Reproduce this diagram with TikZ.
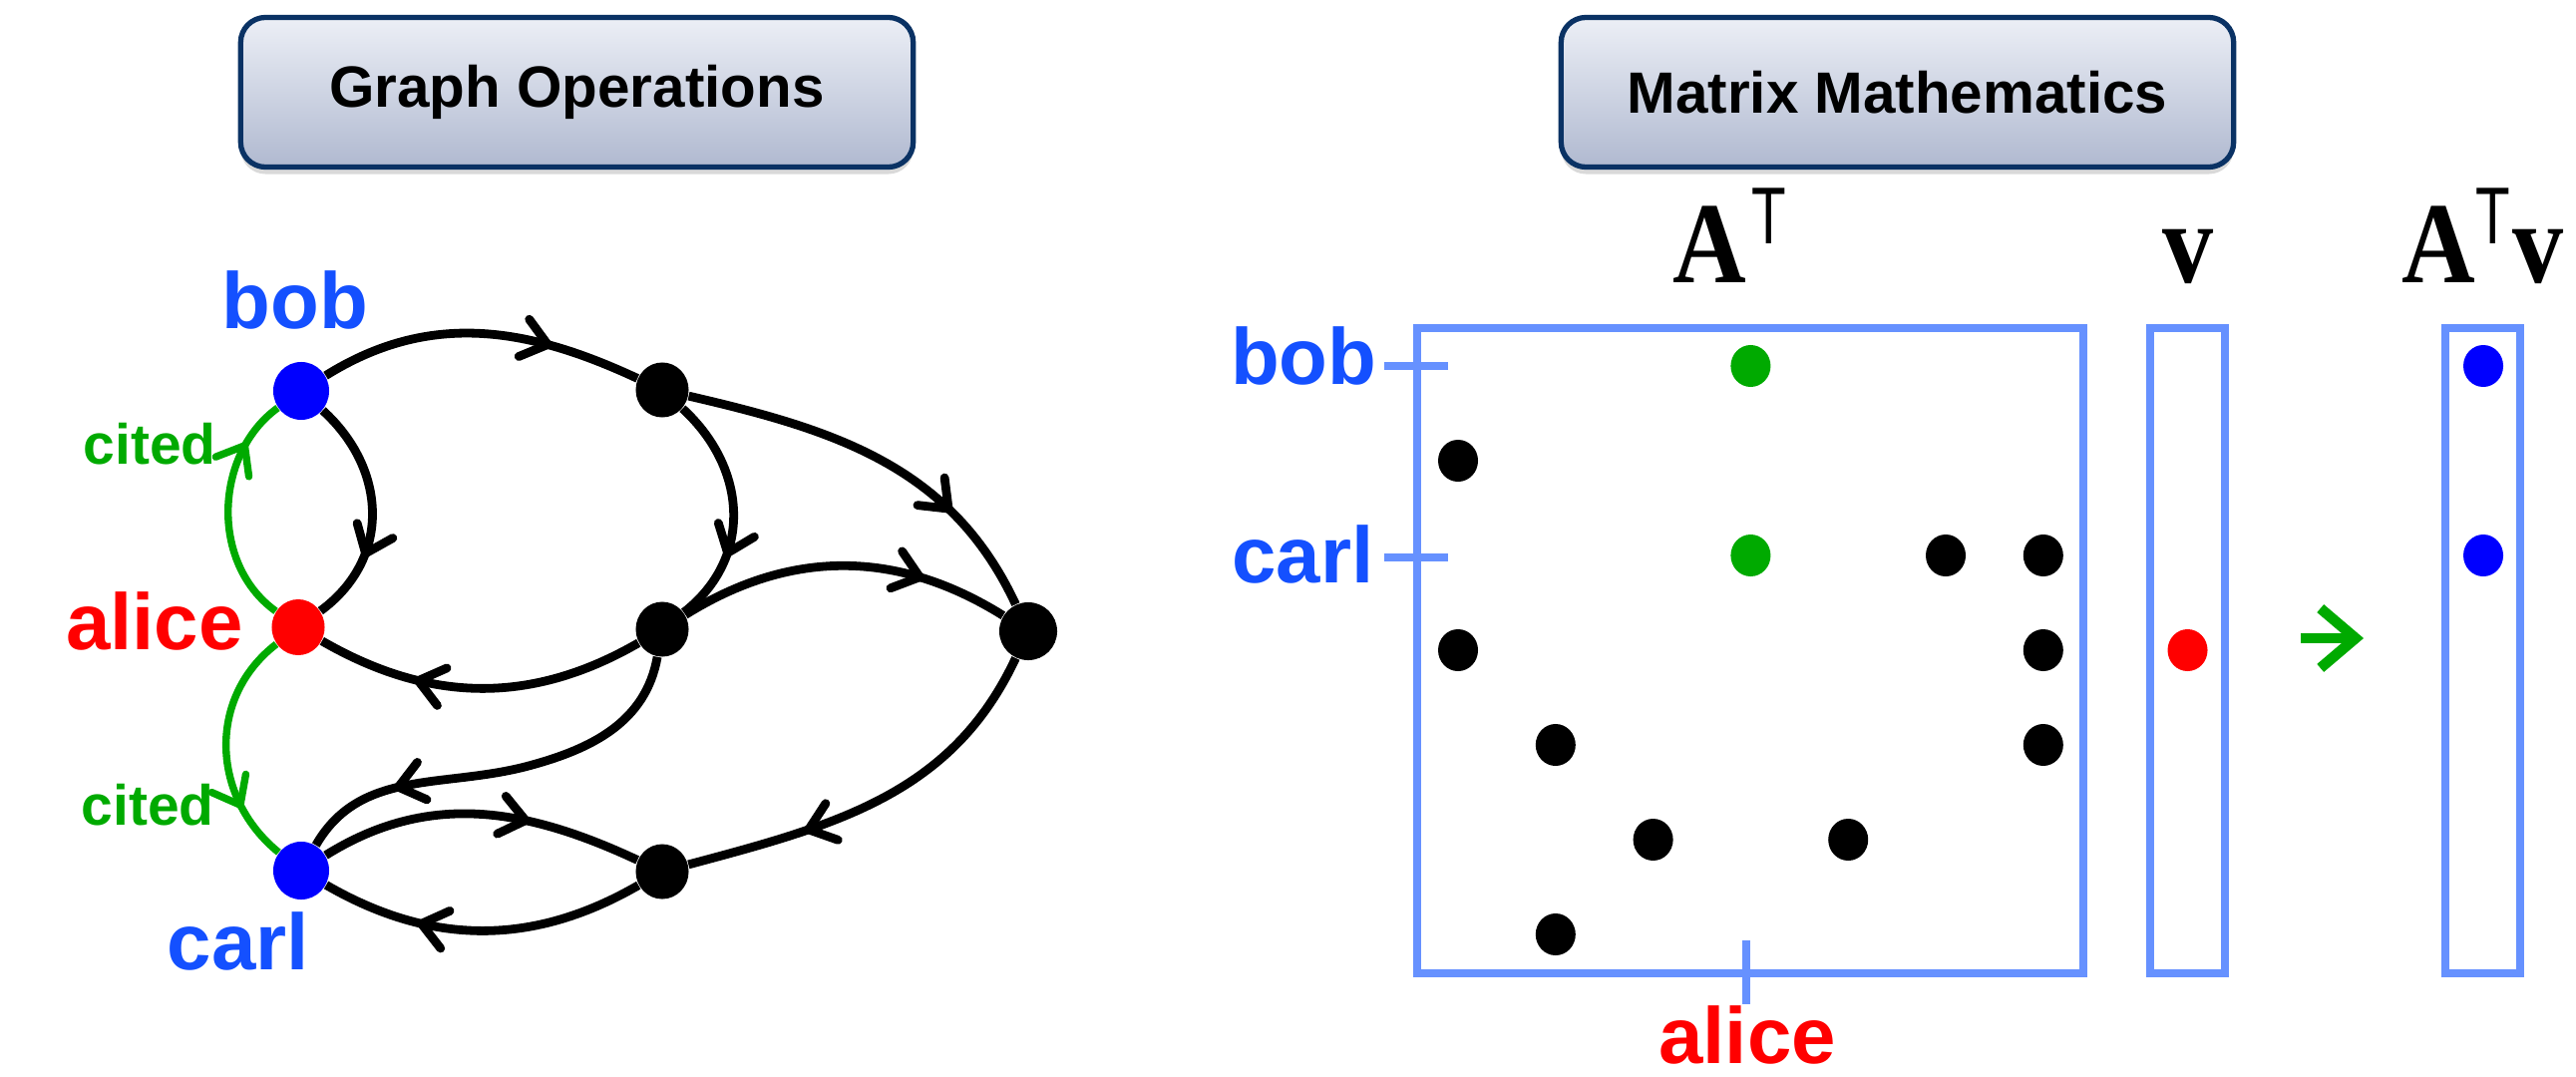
\documentclass[tikz,border=0pt]{standalone}
\usepackage{fontspec}
\setmainfont{Liberation Sans}
\newfontfamily\tnr{Liberation Serif}
\usetikzlibrary{arrows.meta,decorations.markings,shadows,shapes.geometric}
\definecolor{navy}{RGB}{10,50,100}
\definecolor{boxtop}{RGB}{236,239,246}
\definecolor{boxbot}{RGB}{176,185,208}
\definecolor{gcol}{RGB}{0,170,0}
\definecolor{lblue}{RGB}{20,80,255}
\definecolor{nblue}{RGB}{0,0,255}
\definecolor{nred}{RGB}{255,0,0}
\definecolor{mline}{RGB}{102,145,255}
\begin{document}
\begin{tikzpicture}[x=0.01cm,y=0.01cm,
  titlebox/.style={draw=navy, line width=1.5pt, rounded corners=0.25cm,
    top color=boxtop, bottom color=boxbot, minimum width=6.74cm, minimum height=1.50cm,
    inner sep=0, font=\fontsize{16.6}{19}\selectfont\bfseries,
    drop shadow={shadow xshift=0pt, shadow yshift=-0.07cm, opacity=0.3}},
  edge/.style={line width=2.5pt, draw=black},
  gedge/.style={line width=2.1pt, draw=gcol},
  arr/.style={postaction={decorate}, decoration={markings,
    mark=at position #1 with {\arrow{Straight Barb[length=7pt,width=11pt,round]}}}},
  gnode/.style={ellipse, inner sep=0, minimum width=0.56cm, minimum height=0.58cm},
  bnode/.style={ellipse, fill=black, inner sep=0, minimum width=0.53cm, minimum height=0.55cm},
  lab/.style={font=\fontsize{22.7}{26}\selectfont\bfseries, inner sep=0},
  cit/.style={font=\fontsize{16.2}{19}\selectfont\bfseries, text=gcol, inner sep=0},
  mdot/.style={ellipse, inner sep=0, minimum width=0.40cm, minimum height=0.42cm},
  mbox/.style={draw=mline, line width=2.3pt, inner sep=0},
  tickline/.style={draw=mline, line width=2.3pt},
  bigA/.style={inner sep=0, anchor=base west, font=\tnr\fontsize{33}{36}\selectfont\bfseries},
  supT/.style={inner sep=0, anchor=base west, font=\fontsize{23}{26}\selectfont}
]
\useasboundingbox (0,0) rectangle (2583,-1079);

% title boxes
\node[titlebox] (tg) at (578.5,-92.5) {Graph Operations};
\node[titlebox] (tm) at (1902.5,-92.5) {Matrix Mathematics};

% graph nodes
\node[gnode, fill=nblue] (bob) at (302,-392) {};
\node[gnode, fill=nred, minimum width=0.53cm, minimum height=0.56cm] (alice) at (299,-629) {};
\node[gnode, fill=nblue] (carl) at (302,-873) {};
\node[bnode] (n1) at (664,-391) {};
\node[bnode] (n2) at (664,-631) {};
\node[bnode, minimum width=0.58cm, minimum height=0.58cm] (n3) at (1031,-633) {};
\node[bnode] (n4) at (664,-874) {};
\coordinate (m7) at (530,-768);

% edges
\draw[edge, arr=0.72] (bob) to[out=32,in=155] (n1);
\draw[edge, arr=0.72] (n1) to[out=-13,in=115] (n3);
\draw[edge, arr=0.7] (bob) .. controls (388,-470) and (393,-560) .. (alice);
\draw[edge, arr=0.7] (n1) .. controls (750,-470) and (755,-560) .. (n2);
\draw[edge, arr=0.7] (n2) to[out=-150,in=-30] (alice);
\draw[edge, arr=0.74] (n2) to[out=32,in=148] (n3);
\draw[edge, arr=0.76] (n2) to[out=-100,in=15] (m7) to[out=195,in=60] (carl);
\draw[edge, arr=0.7] (n3) to[out=-115,in=15] (n4);
\draw[edge, arr=0.65] (carl) to[out=32,in=155] (n4);
\draw[edge, arr=0.7] (n4) to[out=-150,in=-30] (carl);
\draw[gedge, arr=0.8] (alice) .. controls (210,-565) and (215,-455) .. (bob);
\draw[gedge, arr=0.76] (alice) .. controls (207,-700) and (212,-800) .. (carl);

% graph labels
\node[lab, text=lblue] (lbob) at (296,-301) {bob};
\node[lab, text=nred] (lalice) at (155,-623) {alice};
\node[lab, text=lblue] (lcarl) at (239,-944) {carl};
\node[cit] (cit1) at (150,-445) {cited};
\node[cit] (cit2) at (148,-807) {cited};

% matrix boxes
\node[mbox, minimum width=6.68cm, minimum height=6.47cm] (AT) at (1755,-652.5) {};
\node[mbox, minimum width=0.75cm, minimum height=6.47cm] (V) at (2193.5,-652.5) {};
\node[mbox, minimum width=0.75cm, minimum height=6.47cm] (ATV) at (2489.5,-652.5) {};

% ticks
\coordinate (tb1) at (1388,-367); \coordinate (tb2) at (1452,-367);
\coordinate (tc1) at (1388,-559); \coordinate (tc2) at (1452,-559);
\coordinate (ta1) at (1751,-943); \coordinate (ta2) at (1751,-1007);
\draw[tickline] (tb1) -- (tb2);
\draw[tickline] (tc1) -- (tc2);
\draw[tickline] (ta1) -- (ta2);

% matrix labels
\node[lab, text=lblue, anchor=east] (mbob) at (1381,-357) {bob};
\node[lab, text=lblue, anchor=east] (mcarl) at (1378,-556) {carl};
\node[lab, text=nred] (malice) at (1752,-1038) {alice};

% matrix dots
\foreach \c/\r/\cl/\nm in {3/0/gcol/g1, 3/2/gcol/g2,
  0/1/black/k1, 5/2/black/k2, 6/2/black/k3, 0/3/black/k4, 6/3/black/k5,
  1/4/black/k6, 6/4/black/k7, 2/5/black/k8, 4/5/black/k9, 1/6/black/k10}
  \node[mdot, fill=\cl] (\nm) at ({1462+97.8*\c},{-367-95*\r}) {};
\node[mdot, fill=nred] (vdot) at (2193.5,-652) {};
\node[mdot, fill=nblue] (r1) at (2490,-367) {};
\node[mdot, fill=nblue] (r2) at (2490,-557) {};

% green arrow
\coordinate (ga1) at (2307,-640); \coordinate (ga2) at (2370,-640);
\draw[gcol, line width=3pt, -{Straight Barb[length=10pt,width=17pt]}] (ga1) -- (ga2);

% headers
\node[bigA] (hA1) at (1677,-283) {\scalebox{0.88}[1]{A}};
\node[supT] (hT1) at (1756,-245) {\scalebox{0.7}[1]{T}};
\node[bigA] (hv) at (2168,-283) {\scalebox{0.88}[1]{v}};
\node[bigA] (hA2) at (2408,-283) {\scalebox{0.88}[1]{A}};
\node[supT] (hT2) at (2482,-245) {\scalebox{0.7}[1]{T}};
\node[bigA] (hv2) at (2519,-283) {\scalebox{0.88}[1]{v}};
\end{tikzpicture}
\end{document}
